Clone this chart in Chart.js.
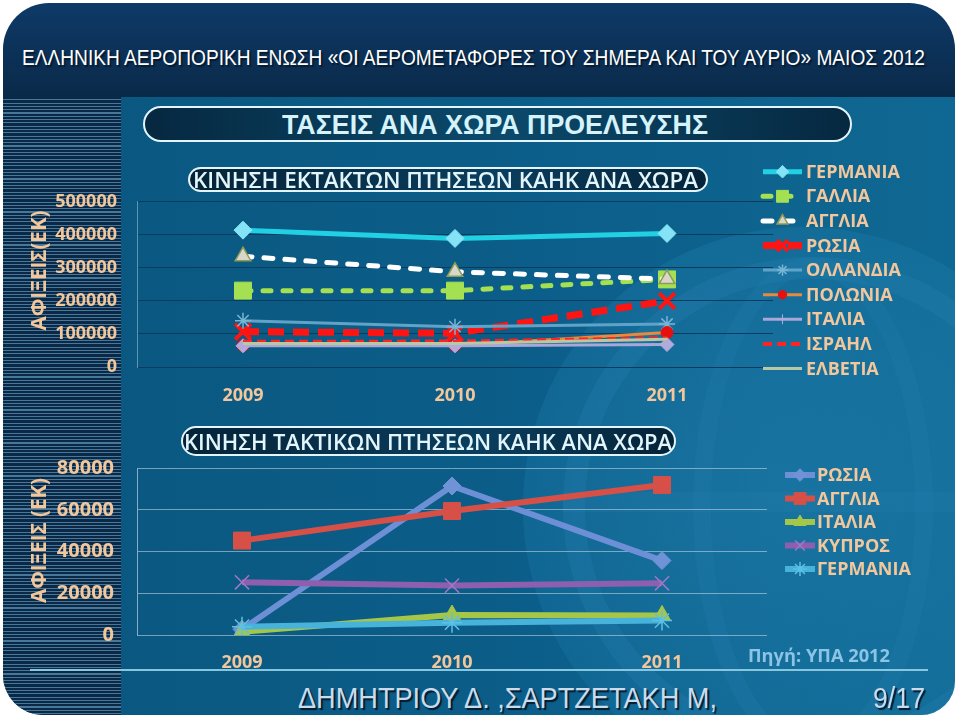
<!DOCTYPE html>
<html><head><meta charset="utf-8">
<script src="https://cdn.jsdelivr.net/npm/chart.js@4.4.0/dist/chart.umd.min.js"></script>
<style>
html,body{margin:0;padding:0;width:960px;height:718px;overflow:hidden;background:#fff;}
#slide{position:relative;width:960px;height:718px;overflow:hidden;}
.abs{position:absolute;}
#topbar{left:3px;top:3px;width:952px;height:96px;border-radius:46px 46px 0 0;background:linear-gradient(#0e3a68,#0a2948);}
#panel{left:3px;top:97px;width:952px;height:618px;border-radius:0 0 34px 40px;background:linear-gradient(90deg,#0a577f 0%,#0b5d88 50%,#0f6893 100%);overflow:hidden;}
#strip{left:0;top:0;width:118px;height:618px;background:repeating-linear-gradient(to bottom,#0b2946 0px,#0b2946 2.2px,#46789a 2.2px,#46789a 3.3px);}
.globe{border-radius:50%;}
.txt{white-space:nowrap;display:inline-block;transform-origin:left center;}
.pill{border:2px solid #e4f4fb;box-sizing:border-box;}
canvas{position:absolute;}
</style>
</head><body>
<div id="slide">
  <div id="topbar" class="abs"></div>
  <div id="panel" class="abs">
    <div class="abs globe" style="left:520px;top:130px;width:560px;height:560px;background:radial-gradient(circle at 45% 45%,rgba(50,150,200,0.30),rgba(40,140,190,0.16) 70%,rgba(40,140,190,0.0) 71%);"></div>
    <div class="abs globe" style="left:560px;top:160px;width:500px;height:500px;border:22px solid rgba(40,130,180,0.25);box-sizing:border-box;"></div>
    <div class="abs globe" style="left:690px;top:160px;width:240px;height:500px;border:18px solid rgba(40,130,180,0.2);box-sizing:border-box;"></div>
    <div class="abs" style="left:560px;top:395px;width:500px;height:20px;background:rgba(40,130,180,0.2);"></div>
    <div id="strip" class="abs"></div>
  </div>
  <div class="abs" style="left:30px;top:669px;width:898px;height:2px;background:#86c6de;"></div>

  <div class="abs pill" style="left:143px;top:106px;width:709px;height:36px;border-radius:18px;background:linear-gradient(90deg,#062840,#0b4a6c 50%,#062840);"></div>
  <div class="abs pill" style="left:188px;top:167px;width:520px;height:25px;border-radius:13px;background:linear-gradient(90deg,#052338,#0a3e5e 60%,#052338);"></div>
  <div class="abs pill" style="left:181px;top:426px;width:495px;height:30px;border-radius:15px;background:linear-gradient(90deg,#052338,#0a3e5e 60%,#052338);"></div>

  <canvas id="c1" width="960" height="270" style="left:0;top:150px;width:960px;height:270px;"></canvas>
  <canvas id="c2" width="960" height="260" style="left:0;top:420px;width:960px;height:260px;"></canvas>

  <div id="texts"></div>
</div>
<script>
// ---------- DATA ----------
const years = ['2009', '2010', '2011'];

const charterTicks = [0, 100000, 200000, 300000, 400000, 500000];
const charterCountries = ['ΓΕΡΜΑΝΙΑ', 'ΓΑΛΛΙΑ', 'ΑΓΓΛΙΑ', 'ΡΩΣΙΑ', 'ΟΛΛΑΝΔΙΑ', 'ΠΟΛΩΝΙΑ', 'ΙΤΑΛΙΑ', 'ΙΣΡΑΗΛ', 'ΕΛΒΕΤΙΑ'];
const charterGermany     = [414000, 389000, 404000];
const charterFrance      = [231000, 231000, 265000];
const charterEngland     = [335000, 288000, 266000];
const charterRussia      = [107000, 102000, 200000];
const charterNetherlands = [140000, 122000, 130000];
const charterPoland      = [65000, 65000, 104000];
const charterItaly       = [64000, 64000, 68000];
const charterIsrael      = [76000, 77000, 87000];
const charterSwitzerland = [71000, 71000, 84000];

const schedTicks = [0, 20000, 40000, 60000, 80000];
const schedCountries = ['ΡΩΣΙΑ', 'ΑΓΓΛΙΑ', 'ΙΤΑΛΙΑ', 'ΚΥΠΡΟΣ', 'ΓΕΡΜΑΝΙΑ'];
const schedRussia  = [2700, 71500, 35700];
const schedEngland = [45300, 59500, 72000];
const schedItaly   = [1500, 9600, 9400];
const schedCyprus  = [25300, 23700, 24800];
const schedGermany = [4000, 5900, 6900];

// ---------- TEXT ----------
const TAN = '#f3c79c';
function addText(str, o) {
  const el = document.createElement('div');
  el.className = 'txt abs';
  el.textContent = str;
  el.style.font = o.font;
  el.style.color = o.color;
  el.style.lineHeight = '1';
  if (o.shadow) el.style.textShadow = o.shadow;
  document.getElementById('texts').appendChild(el);
  const w = el.getBoundingClientRect().width, h = el.getBoundingClientRect().height;
  const k = o.w / w;
  if (o.rotate) {
    el.style.left = (o.cx - w / 2) + 'px';
    el.style.top = (o.cy - h / 2) + 'px';
    el.style.transformOrigin = 'center center';
    el.style.transform = 'rotate(-90deg) scaleX(' + k + ')';
  } else {
    el.style.left = o.x + 'px';
    el.style.top = (o.cy - h / 2) + 'px';
    el.style.transform = 'scaleX(' + k + ')';
  }
}
const SHADOW = '2px 2px 1px #061a2e';
addText('ΕΛΛΗΝΙΚΗ ΑΕΡΟΠΟΡΙΚΗ ΕΝΩΣΗ «ΟΙ ΑΕΡΟΜΕΤΑΦΟΡΕΣ ΤΟΥ ΣΗΜΕΡΑ ΚΑΙ ΤΟΥ ΑΥΡΙΟ» ΜΑΙΟΣ 2012',
  {x: 22, cy: 58, w: 903, font: '22px "Liberation Sans"', color: '#ffffff', shadow: SHADOW});
addText('ΤΑΣΕΙΣ ΑΝΑ ΧΩΡΑ ΠΡΟΕΛΕΥΣΗΣ',
  {x: 282, cy: 125, w: 426, font: 'bold 28px "Liberation Sans"', color: '#d6f3fb'});
addText('ΚΙΝΗΣΗ ΕΚΤΑΚΤΩΝ ΠΤΗΣΕΩΝ ΚΑΗΚ ΑΝΑ ΧΩΡΑ',
  {x: 193, cy: 180, w: 505, font: '600 21px "Open Sans"', color: '#e2f5fb'});
addText('ΚΙΝΗΣΗ ΤΑΚΤΙΚΩΝ ΠΤΗΣΕΩΝ ΚΑΗΚ ΑΝΑ ΧΩΡΑ',
  {x: 184, cy: 441, w: 488, font: '600 22px "Open Sans"', color: '#e2f5fb'});
addText('ΑΦΙΞΕΙΣ(ΕΚ)', {rotate: true, cx: 38, cy: 270, w: 120, font: 'bold 21px "Open Sans"', color: TAN});
addText('ΑΦΙΞΕΙΣ (ΕΚ)', {rotate: true, cx: 38, cy: 540, w: 125, font: 'bold 21px "Open Sans"', color: TAN});
addText('Πηγή: ΥΠΑ 2012', {x: 748, cy: 655, w: 142, font: 'bold 17px "Open Sans"', color: '#8cc4e6'});
addText('ΔΗΜΗΤΡΙΟΥ Δ. ,ΣΑΡΤΖΕΤΑΚΗ Μ,', {x: 298, cy: 698, w: 419, font: '29px "Liberation Sans"', color: '#c9dcec', shadow: SHADOW});
addText('9/17', {x: 873, cy: 698, w: 52, font: '29px "Liberation Sans"', color: '#c9dcec', shadow: SHADOW});

// ---------- CHARTS ----------
const lineLegend = {
  id: 'lineLegend',
  afterDraw(chart, args, o) {
    const ctx = chart.ctx;
    ctx.save();
    chart.data.datasets.forEach((ds, i) => {
      const y = o.y0 + i * o.dy;
      ctx.strokeStyle = ds.borderColor;
      ctx.lineWidth = ds.borderWidth;
      ctx.setLineDash(ds.borderDash || []);
      ctx.lineCap = ds.borderCapStyle || 'butt';
      ctx.beginPath(); ctx.moveTo(o.x0, y); ctx.lineTo(o.x1, y); ctx.stroke();
      ctx.setLineDash([]);
      ctx.lineCap = 'butt';
      const ps = ds.legendPointStyle || ds.pointStyle;
      if (ps && ds.pointRadius > 0) {
        ctx.fillStyle = ds.pointBackgroundColor;
        ctx.strokeStyle = ds.pointBorderColor;
        ctx.lineWidth = ds.pointBorderWidth;
        Chart.helpers.drawPoint(ctx, {pointStyle: ps, rotation: 0, radius: ds.pointRadius * 0.7, borderWidth: ds.pointBorderWidth}, (o.x0 + o.x1) / 2, y);
      }
      ctx.fillStyle = o.color;
      ctx.font = o.font;
      ctx.textBaseline = 'middle';
      ctx.textAlign = 'left';
      ctx.fillText(ds.label, o.tx, y + 1);
    });
    ctx.restore();
  }
};

let dsIndex = 0;
function ds(label, data, color, width, dash, ps, r, fill, border, bw, cap, legendPs) {
  return {label, data, borderColor: color, borderWidth: width, borderDash: dash, borderCapStyle: cap || 'butt',
    pointStyle: ps || 'circle', pointRadius: ps ? r : 0, pointHoverRadius: ps ? r : 0,
    pointBackgroundColor: fill, pointBorderColor: border, pointBorderWidth: bw,
    legendPointStyle: legendPs, tension: 0, fill: false, order: -(dsIndex++)};
}

function opts(c) {
  return {
    responsive: false, animation: false, events: [],
    layout: {padding: {top: c.top, right: c.right, left: 0, bottom: 0}},
    plugins: {legend: {display: false}, tooltip: {enabled: false}, lineLegend: c.legend},
    scales: {
      x: {type: 'category', offset: true,
        grid: {display: false, drawTicks: false},
        border: {display: false},
        ticks: {color: TAN, font: {family: 'Open Sans', weight: 'bold', size: c.xSize}, padding: c.xPad, maxRotation: 0},
        afterFit: s => { s.height = c.axisH; }},
      y: {min: 0, max: c.max,
        afterBuildTicks: s => { s.ticks = c.ticks.map(v => ({value: v})); },
        grid: {color: c.grid, lineWidth: 1, drawTicks: false},
        border: {display: true, color: c.border, width: 1},
        ticks: {color: TAN, font: {family: 'Open Sans', weight: 'bold', size: c.ySize}, padding: c.yPad,
          callback: v => String(v)},
        afterFit: s => { s.width = 137; }}
    }
  };
}

new Chart(document.getElementById('c1'), {
  type: 'line',
  data: {labels: years, datasets: [
    ds(charterCountries[0], charterGermany, '#22d0e4', 5, [], 'rectRot', 9, '#84e4f6', '#84e4f6', 1),
    ds(charterCountries[1], charterFrance, '#a4e052', 5, [8, 12], 'rect', 12, '#a4e052', '#a4e052', 1, 'round'),
    ds(charterCountries[2], charterEngland, '#ffffff', 5, [9, 12], 'triangle', 9, '#d9d7c9', '#8f9c55', 1.5, 'round'),
    ds(charterCountries[3], charterRussia, '#ff1414', 7, [16, 9], 'crossRot', 11, '#ff1414', '#ff1414', 4),
    ds(charterCountries[4], charterNetherlands, '#5fa4c8', 3, [], 'star', 8, '#78b4d4', '#78b4d4', 1.5),
    ds(charterCountries[5], charterPoland, '#e8893c', 3, [], 'circle', 6, '#e61010', '#e61010', 1),
    ds(charterCountries[6], charterItaly, '#a9a6d8', 3, [], 'rectRot', 7, '#b2aadb', '#b2aadb', 1, 'butt', 'cross'),
    ds(charterCountries[7], charterIsrael, '#ff2424', 4, [9, 5], null, 0, null, null, 0),
    ds(charterCountries[8], charterSwitzerland, '#b9c7a2', 3, [], null, 0, null, null, 0)
  ]},
  options: opts({top: 51.7, right: 960 - 773, max: 500000, ticks: charterTicks, axisH: 53, xPad: 18, xSize: 18, ySize: 18, yPad: 20,
    grid: '#0a3c5f', border: '#5f93b4',
    legend: {y0: 21.7, dy: 24.6, x0: 763, x1: 802, tx: 806, color: TAN, font: 'bold 18px "Open Sans"'}}),
  plugins: [lineLegend]
});

dsIndex = 0;
new Chart(document.getElementById('c2'), {
  type: 'line',
  data: {labels: years, datasets: [
    ds(schedCountries[0], schedRussia, '#6c8fd6', 6, [], 'rectRot', 9, '#7093d8', '#7093d8', 1),
    ds(schedCountries[1], schedEngland, '#d65048', 6, [], 'rect', 12, '#d65048', '#d65048', 1),
    ds(schedCountries[2], schedItaly, '#a6c648', 6, [], 'triangle', 10, '#a6c648', '#a6c648', 1),
    ds(schedCountries[3], schedCyprus, '#8d5fae', 6, [], 'crossRot', 10, '#9f78c4', '#9f78c4', 1.5),
    ds(schedCountries[4], schedGermany, '#47b2da', 6, [], 'star', 10, '#5ec0e4', '#5ec0e4', 1.5)
  ]},
  options: opts({top: 48.3, right: 960 - 767, max: 80000, ticks: schedTicks, axisH: 45, xPad: 17, xSize: 18, ySize: 20, yPad: 23,
    grid: 'rgba(190,210,225,0.6)', border: 'rgba(190,210,225,0.7)',
    legend: {y0: 55, dy: 23.5, x0: 785, x1: 815, tx: 817, color: TAN, font: 'bold 18px "Open Sans"'}}),
  plugins: [lineLegend]
});
</script>
</body></html>
